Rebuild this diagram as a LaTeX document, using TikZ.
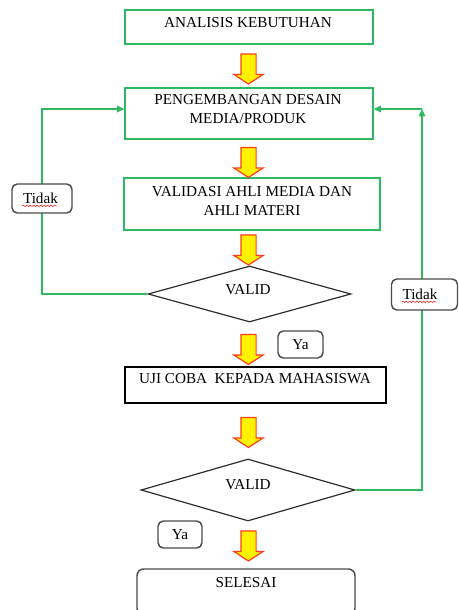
\documentclass[tikz,border=0pt]{standalone}
\usepackage{fontspec}
\setmainfont{Liberation Serif}
\usetikzlibrary{shapes.geometric,shapes.arrows,decorations.pathmorphing,arrows.meta}
\definecolor{lgreen}{RGB}{46,184,96}
\definecolor{arrowred}{RGB}{255,60,30}
\definecolor{boxgray}{RGB}{75,75,75}
\definecolor{diagray}{RGB}{45,45,45}
\begin{document}
\begin{tikzpicture}[x=0.75pt,y=-0.75pt,
  font=\fontsize{11.4pt}{14.25pt}\selectfont,
  gbox/.style={draw=lgreen, line width=1.1pt, rectangle, inner sep=0pt},
  kbox/.style={draw=black, line width=1.1pt, rectangle, inner sep=0pt},
  dia/.style={draw=diagray, line width=0.9pt, diamond, inner sep=0pt},
  rbox/.style={draw=boxgray, line width=1.1pt, rectangle, rounded corners=4pt, fill=white, inner sep=0pt},
  lbl/.style={inner sep=0pt, align=center},
  yarrow/.style={single arrow, draw=arrowred, fill=yellow, line width=0.9pt,
    minimum height=22.5pt, inner sep=5.25pt, single arrow head extend=5.25pt,
    single arrow tip angle=114, shape border rotate=270},
  gline/.style={draw=lgreen, line width=0.9pt},
  gtip/.style={-{Triangle[length=5.5pt,width=5pt]}},
  wavy/.style={draw=red, line width=0.35pt, decorate, decoration={snake, amplitude=0.55pt, segment length=2.6pt}}
]
\useasboundingbox (0,0) rectangle (459,610);

% main boxes
\node[gbox, minimum width=186pt, minimum height=25.5pt] (b1) at (249,27) {};
\node[gbox, minimum width=186pt, minimum height=38.25pt] (b2) at (249,113.5) {};
\node[gbox, minimum width=192pt, minimum height=39pt] (b3) at (252,204) {};
\node[dia, minimum width=152.25pt, minimum height=42pt] (d1) at (249.5,294) {};
\node[kbox, minimum width=195.75pt, minimum height=27pt] (b4) at (255.5,385) {};
\node[dia, minimum width=160.5pt, minimum height=46.5pt] (d2) at (248,490) {};
\node[rbox, rounded corners=5pt, minimum width=163.5pt, minimum height=34.5pt] (b5) at (246,592) {};

% texts
\node[lbl] (t1) at (248,23) {ANALISIS KEBUTUHAN};
\node[lbl] (t2) at (248,109.5) {PENGEMBANGAN DESAIN\\MEDIA/PRODUK};
\node[lbl] (t3) at (252,201) {VALIDASI AHLI MEDIA DAN\\AHLI MATERI};
\node[lbl] (td1) at (248,290) {VALID};
\node[lbl] (t4) at (255,379) {UJI COBA \ KEPADA MAHASISWA};
\node[lbl] (td2) at (248,485) {VALID};
\node[lbl] (t5) at (246,583) {SELESAI};

% block arrows
\node[yarrow] (a1) at (248.5,66.5) {};
\node[yarrow] (a2) at (248.5,160) {};
\node[yarrow] (a3) at (248.5,247.5) {};
\node[yarrow] (a4) at (248.5,347) {};
\node[yarrow] (a5) at (248.5,430) {};
\node[yarrow] (a6) at (248.5,543.5) {};

% feedback loops
\coordinate (lc) at (42,109);
\coordinate (rc) at (422,109);
\draw[gline, gtip] (d1.west) -| (lc) -- (lc -| b2.west);
\draw[gline, gtip] (d2.east) -| (rc);
\draw[gline, gtip] (rc) -- (rc -| b2.east);

% Tidak / Ya labels
\node[rbox, text width=28.5pt, inner xsep=8.25pt, minimum height=21.75pt, align=left] (tl) at (42,198.5) {Tidak};
\node[rbox, text width=33pt, inner xsep=8.25pt, minimum height=23.25pt, align=left] (tr) at (424.5,294.5) {Tidak};
\draw[wavy] ([xshift=8.25pt,yshift=-1.6pt]tl.base west) -- ++(26pt,0);
\draw[wavy] ([xshift=8.25pt,yshift=-1.6pt]tr.base west) -- ++(26pt,0);
\node[rbox, minimum width=33.75pt, minimum height=20.25pt] (y1) at (300.5,344.5) {Ya};
\node[rbox, minimum width=33pt, minimum height=20.25pt] (y2) at (180,534.5) {Ya};
\end{tikzpicture}
\end{document}
